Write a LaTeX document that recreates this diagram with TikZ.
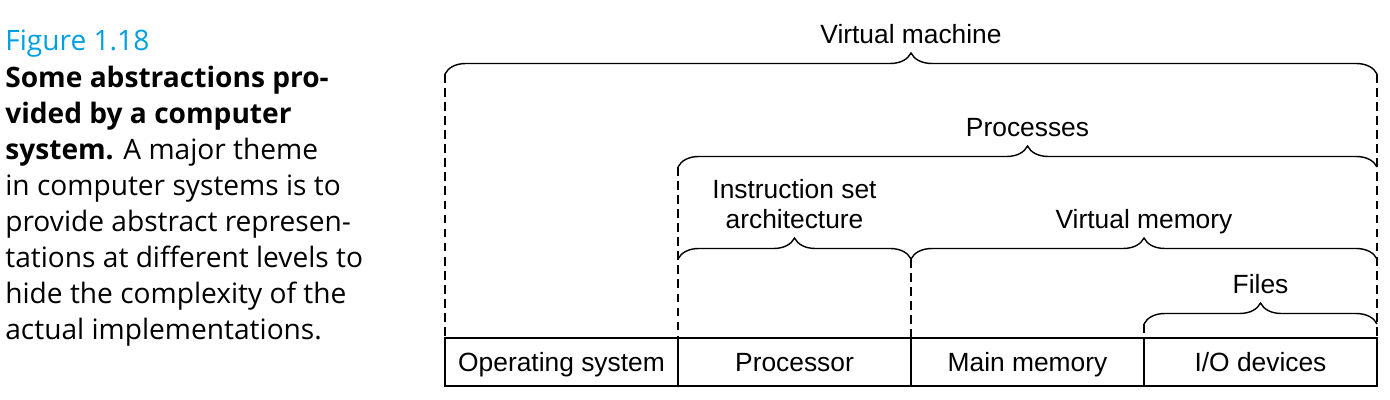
\documentclass[tikz,border=0pt]{standalone}
\usepackage{fontspec}
\setmainfont{Liberation Sans}
\newfontfamily\capfont{Open Sans}
\usetikzlibrary{decorations.pathreplacing,positioning,calc}
\definecolor{figblue}{RGB}{0,160,226}
\tikzset{
  cell/.style={draw,line width=1.6pt,minimum width=4.66cm,minimum height=0.96cm,
    outer sep=0pt,inner sep=0pt,text height=14pt,text depth=3pt,
    font=\fontsize{15}{17}\selectfont},
  brace/.style={decorate,decoration={brace,amplitude=0.42cm},line width=0.8pt},
  layer/.style={dashed,dash pattern=on 5pt off 3pt,line width=0.8pt},
  lbl/.style={midway,anchor=base,yshift=0.6cm,align=center,
    font=\fontsize{15}{17.5}\selectfont}
}
\begin{document}
\begin{tikzpicture}
  \useasboundingbox (0,0) rectangle (27.8,8);

  \node[anchor=north west,inner sep=0pt,align=left,
    font=\capfont\fontsize{16}{20.5}\selectfont] (caption) at (0.1,7.4)
    {\textcolor{figblue}{Figure 1.18}\\
     \textbf{Some abstractions pro-}\\
     \textbf{vided by a computer}\\
     \textbf{system.} A major theme\\
     in computer systems is to\\
     provide abstract represen-\\
     tations at different levels to\\
     hide the complexity of the\\
     actual implementations.};

  \node[cell] (os) at (11.23,0.76) {Operating system};
  \node[cell,right=0pt of os] (cpu) {Processor};
  \node[cell,right=0pt of cpu] (mem) {Main memory};
  \node[cell,right=0pt of mem] (io) {I/O devices};

  \coordinate (vm-l) at ($(os.north west)+(0,5.28)$);
  \coordinate (vm-r) at ($(io.north east)+(0,5.28)$);
  \coordinate (pr-l) at ($(cpu.north west)+(0,3.42)$);
  \coordinate (pr-r) at ($(io.north east)+(0,3.42)$);
  \coordinate (isa-l) at ($(cpu.north west)+(0,1.58)$);
  \coordinate (isa-r) at ($(mem.north west)+(0,1.58)$);
  \coordinate (vmem-r) at ($(io.north east)+(0,1.58)$);
  \coordinate (fl-l) at ($(io.north west)+(0,0.28)$);
  \coordinate (fl-r) at ($(io.north east)+(0,0.28)$);

  \draw[brace] (vm-l) -- node[lbl] {Virtual machine} (vm-r);
  \draw[brace] (pr-l) -- node[lbl] {Processes} (pr-r);
  \draw[brace] (isa-l) -- node[lbl] {Instruction set\\architecture} (isa-r);
  \draw[brace] (isa-r) -- node[lbl] {Virtual memory} (vmem-r);
  \draw[brace] (fl-l) -- node[lbl] {Files} (fl-r);

  \draw[layer] (vm-l) -- (os.north west);
  \draw[layer] (vm-r) -- (io.north east);
  \draw[layer] (pr-l) -- (cpu.north west);
  \draw[layer] (isa-r) -- (mem.north west);
  \draw[layer] (fl-l) -- (io.north west);
\end{tikzpicture}
\end{document}
